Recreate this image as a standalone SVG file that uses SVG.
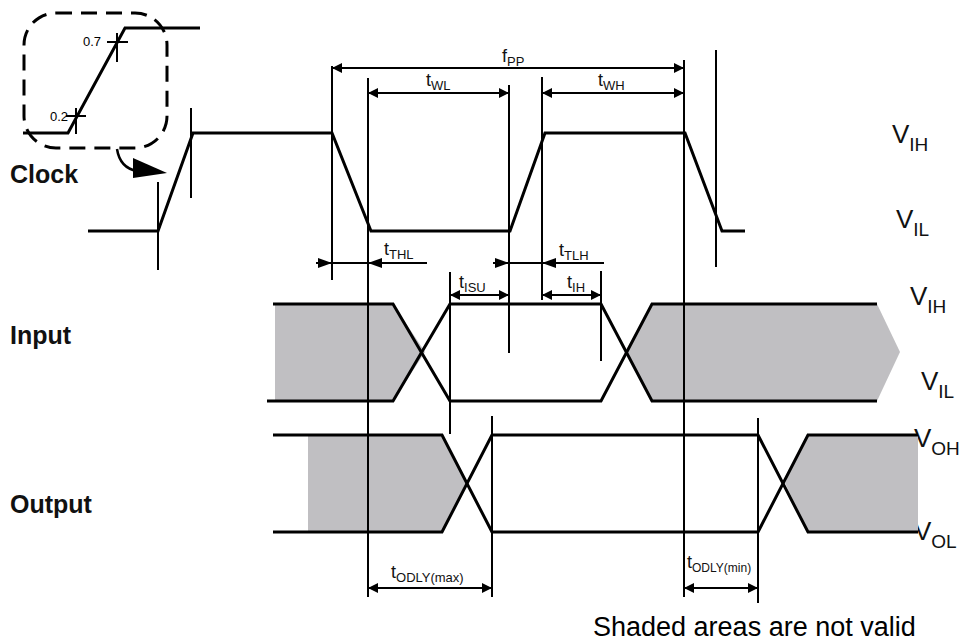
<svg xmlns="http://www.w3.org/2000/svg" width="969" height="644" viewBox="0 0 969 644">
<defs>
<marker id="ah" viewBox="0 0 10 10" refX="10" refY="5" markerWidth="14" markerHeight="10" markerUnits="userSpaceOnUse" orient="auto-start-reverse">
<path d="M0,0 L10,5 L0,10 z" fill="#000"/>
</marker>
<style>
.w{fill:none;stroke:#000;stroke-width:3;stroke-linejoin:miter}
.t{fill:none;stroke:#000;stroke-width:2}
.d{fill:none;stroke:#000;stroke-width:2;marker-start:url(#ah);marker-end:url(#ah)}
.sh{fill:#c0bfc2;stroke:none}
.lbl{font-family:"Liberation Sans",Arial,sans-serif;fill:#000}
.sig{font-family:"Liberation Sans",Arial,sans-serif;font-weight:bold;font-size:25px;fill:#111}
.v{font-family:"Liberation Sans",Arial,sans-serif;font-size:26px;fill:#111}
.tl{font-family:"Liberation Sans",Arial,sans-serif;font-size:18px;fill:#111}
</style>
</defs>
<rect width="969" height="644" fill="#fff"/>

<g id="inset">
<rect x="24" y="13" width="143" height="135" rx="32" ry="32" fill="none" stroke="#000" stroke-width="3" stroke-dasharray="16,9"/>
<polyline class="w" points="23,133 68,133 125,28 200,28"/>
<line class="t" x1="107" y1="42" x2="128" y2="42"/>
<line class="t" x1="117" y1="33" x2="117" y2="62"/>
<line class="t" x1="66" y1="116" x2="86" y2="116"/>
<line class="t" x1="76" y1="108" x2="76" y2="134"/>
<text class="lbl" x="83" y="46" font-size="13" fill="#333">0.7</text>
<text class="lbl" x="50" y="121" font-size="13" fill="#333">0.2</text>
<path d="M117,149 Q120,168 137,171" fill="none" stroke="#000" stroke-width="2.5"/>
<path d="M133,158 L167,173 L133,178 z" fill="#000"/>
</g>

<g id="labels">
<text class="sig" x="10" y="183">Clock</text>
<text class="sig" x="10" y="344">Input</text>
<text class="sig" x="10" y="513">Output</text>
<text class="v" x="892" y="143">V<tspan font-size="19" dy="8">IH</tspan></text>
<text class="v" x="896" y="228">V<tspan font-size="19" dy="8">IL</tspan></text>
<text class="v" x="910" y="305">V<tspan font-size="19" dy="8">IH</tspan></text>
<text class="v" x="921" y="390">V<tspan font-size="19" dy="8">IL</tspan></text>
<text class="v" x="914" y="447">V<tspan font-size="19" dy="8">OH</tspan></text>
<text class="v" x="914" y="540">V<tspan font-size="19" dy="8">OL</tspan></text>
<text class="lbl" x="593" y="636" font-size="27" fill="#111">Shaded areas are not valid</text>
</g>

<g id="clock">
<polyline class="w" points="88,231 158,231 193,133 332,133 371,231 510,231 545,133 685,133 722,231 745,231"/>
</g>

<g id="input">
<polygon class="sh" points="275,304 393,304 425,352 393,401 275,401"/>
<polygon class="sh" points="625,352 652,304 877,304 900,352 877,401 652,401"/>
<polyline class="w" points="273,304 393,304 450,401 601,401 652,304 877,304"/>
<polyline class="w" points="267,401 393,401 450,304 601,304 652,401 877,401"/>
</g>

<g id="output">
<polygon class="sh" points="308,435 442,435 467,483 442,532 308,532"/>
<polygon class="sh" points="785,483 808,435 918,435 918,532 808,532"/>
<polyline class="w" points="273,435 442,435 492,532 758,532 808,435 918,435"/>
<polyline class="w" points="273,532 442,532 492,435 758,435 808,532 918,532"/>
</g>

<g id="connectors">
<line class="t" x1="158" y1="182" x2="158" y2="270"/>
<line class="t" x1="191" y1="108" x2="191" y2="198"/>
<line class="t" x1="332" y1="66" x2="332" y2="280"/>
<line class="t" x1="368" y1="78" x2="368" y2="597"/>
<line class="t" x1="509" y1="85" x2="509" y2="353"/>
<line class="t" x1="542" y1="77" x2="542" y2="300"/>
<line class="t" x1="684" y1="60" x2="684" y2="597"/>
<line class="t" x1="716" y1="50" x2="716" y2="267"/>
<line class="t" x1="450" y1="272" x2="450" y2="434"/>
<line class="t" x1="601" y1="271" x2="601" y2="361"/>
<line class="t" x1="492" y1="416" x2="492" y2="597"/>
<line class="t" x1="758" y1="418" x2="758" y2="603"/>

<line class="d" x1="332" y1="68" x2="684" y2="68"/>
<line class="d" x1="368" y1="93" x2="509" y2="93"/>
<line class="d" x1="542" y1="93" x2="684" y2="93"/>

<line class="t" x1="316" y1="263" x2="427" y2="263"/>
<path d="M318,258 L332,263 L318,268 z" fill="#000"/>
<path d="M382,258 L368,263 L382,268 z" fill="#000"/>
<line class="t" x1="493" y1="263" x2="604" y2="263"/>
<path d="M495,258 L509,263 L495,268 z" fill="#000"/>
<path d="M556,258 L542,263 L556,268 z" fill="#000"/>

<line class="d" x1="450" y1="295" x2="509" y2="295"/>
<line class="d" x1="542" y1="295" x2="601" y2="295"/>
<line class="d" x1="368" y1="588" x2="492" y2="588"/>
<line class="d" x1="684" y1="588" x2="758" y2="588"/>

<text class="tl" x="502" y="62">f<tspan font-size="13" dy="4">PP</tspan></text>
<text class="tl" x="426" y="86">t<tspan font-size="13" dy="4">WL</tspan></text>
<text class="tl" x="598" y="86">t<tspan font-size="13" dy="4">WH</tspan></text>
<text class="tl" x="384" y="255">t<tspan font-size="13" dy="4">THL</tspan></text>
<text class="tl" x="559" y="256">t<tspan font-size="13" dy="4">TLH</tspan></text>
<text class="tl" x="459" y="288">t<tspan font-size="13" dy="4">ISU</tspan></text>
<text class="tl" x="567" y="288">t<tspan font-size="13" dy="4">IH</tspan></text>
<text class="tl" x="391" y="578">t<tspan font-size="13" dy="4">ODLY(max)</tspan></text>
<text class="tl" x="687" y="568">t<tspan font-size="12" dy="4">ODLY(min)</tspan></text>
</g>
</svg>
